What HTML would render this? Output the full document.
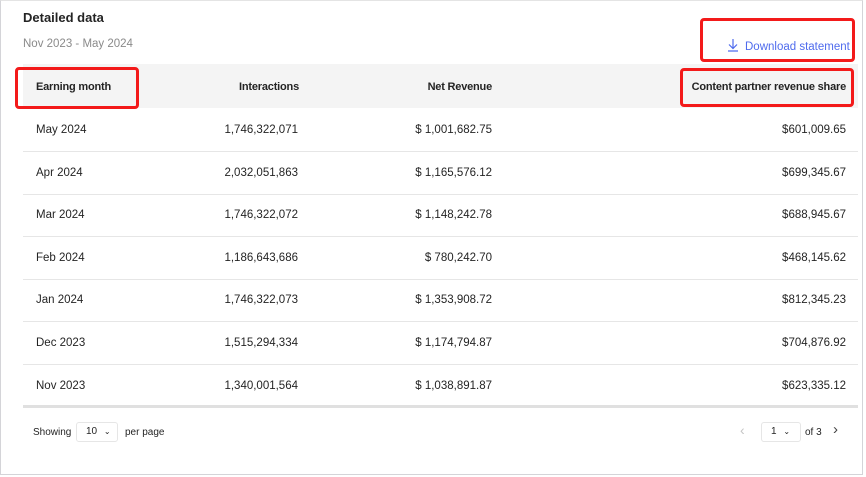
<!DOCTYPE html>
<html><head><style>
body{margin:0;width:866px;height:477px;overflow:hidden;background:#fff;font-family:"Liberation Sans",sans-serif;color:#242424;}
.frame{position:absolute;left:0;top:0;width:861px;height:473px;border:1px solid #d4d4d8;border-top:1px solid #e4e4e4;}
.abs{position:absolute;white-space:nowrap;}
.hdr{position:absolute;left:23px;top:64px;width:835px;height:44px;background:#f4f4f4;}
.th{font-size:11px;font-weight:bold;color:#242424;letter-spacing:-0.2px;}
.td{font-size:11.5px;color:#242424;}
.line{position:absolute;left:23px;width:835px;height:1px;background:#e6e6e6;}
.red{position:absolute;border:3px solid #f31a1a;border-radius:4px;box-sizing:border-box;}
</style></head><body>
<div class="frame"></div>
<div class="abs" style="left:23px;top:10px;font-size:13px;font-weight:bold;">Detailed data</div>
<div class="abs" style="left:23px;top:38px;font-size:11.5px;color:#8a8a8a;">Nov 2023 - May 2024</div>
<div class="abs" style="left:727px;top:38px;font-size:11.5px;color:#4f6bed;">
<svg width="12" height="14" style="vertical-align:-2px;margin-right:6px" viewBox="0 0 12 14"><path d="M6 1v9M2 6.5l4 4 4-4M1 13h10" stroke="#4f6bed" stroke-width="1.2" fill="none"/></svg>Download statement</div>
<div class="hdr"></div>
<div class="abs th" style="left:36px;top:81px;">Earning month</div>
<div class="abs th" style="right:567px;top:81px;">Interactions</div>
<div class="abs th" style="right:374px;top:81px;">Net Revenue</div>
<div class="abs th" style="right:20px;top:81px;">Content partner revenue share</div>
<div id="rows"></div>
<div class="abs" style="left:23px;top:405px;width:835px;height:3px;background:#e0e0e0;"></div>
<div class="abs td" style="left:33px;top:427px;font-size:10px;">Showing</div>
<div class="abs" style="left:76px;top:422px;width:42px;height:20px;border:1px solid #e6e6e6;border-radius:3px;box-sizing:border-box;font-size:10px;line-height:18px;padding-left:9px;">10 <span style="margin-left:4px;font-size:8px">&#8964;</span></div>
<div class="abs td" style="left:125px;top:427px;font-size:10px;">per page</div>
<div class="abs" style="left:740px;top:422px;color:#c4c4c4;font-size:14px;">&#x2039;</div>
<div class="abs" style="left:761px;top:422px;width:40px;height:20px;border:1px solid #e6e6e6;border-radius:3px;box-sizing:border-box;font-size:10px;line-height:18px;padding-left:9px;">1 <span style="margin-left:4px;font-size:8px">&#8964;</span></div>
<div class="abs td" style="left:805px;top:427px;font-size:10px;">of 3</div>
<div class="abs" style="left:833px;top:421px;color:#444;font-size:15px;">&#x203A;</div>
<div class="red" style="left:15px;top:67px;width:124px;height:42px;"></div>
<div class="red" style="left:700px;top:18px;width:155px;height:44px;"></div>
<div class="red" style="left:680px;top:68px;width:174px;height:39px;"></div>
<script>
var d=[["May 2024","1,746,322,071","1,001,682.75","$601,009.65"],["Apr 2024","2,032,051,863","1,165,576.12","$699,345.67"],["Mar 2024","1,746,322,072","1,148,242.78","$688,945.67"],["Feb 2024","1,186,643,686","780,242.70","$468,145.62"],["Jan 2024","1,746,322,073","1,353,908.72","$812,345.23"],["Dec 2023","1,515,294,334","1,174,794.87","$704,876.92"],["Nov 2023","1,340,001,564","1,038,891.87","$623,335.12"]];
var h="";d.forEach(function(r,i){var y=124+i*42.6;
h+='<div class="abs td" style="left:36px;top:'+y+'px">'+r[0]+'</div><div class="abs td" style="right:568px;top:'+y+'px">'+r[1]+'</div><div class="abs td" style="right:374px;top:'+y+'px">$ '+r[2]+'</div><div class="abs td" style="right:20px;top:'+y+'px">'+r[3]+'</div>';
if(i<6)h+='<div class="line" style="top:'+(151+i*42.6)+'px"></div>';});
document.getElementById("rows").innerHTML=h;
</script>
</body></html>
